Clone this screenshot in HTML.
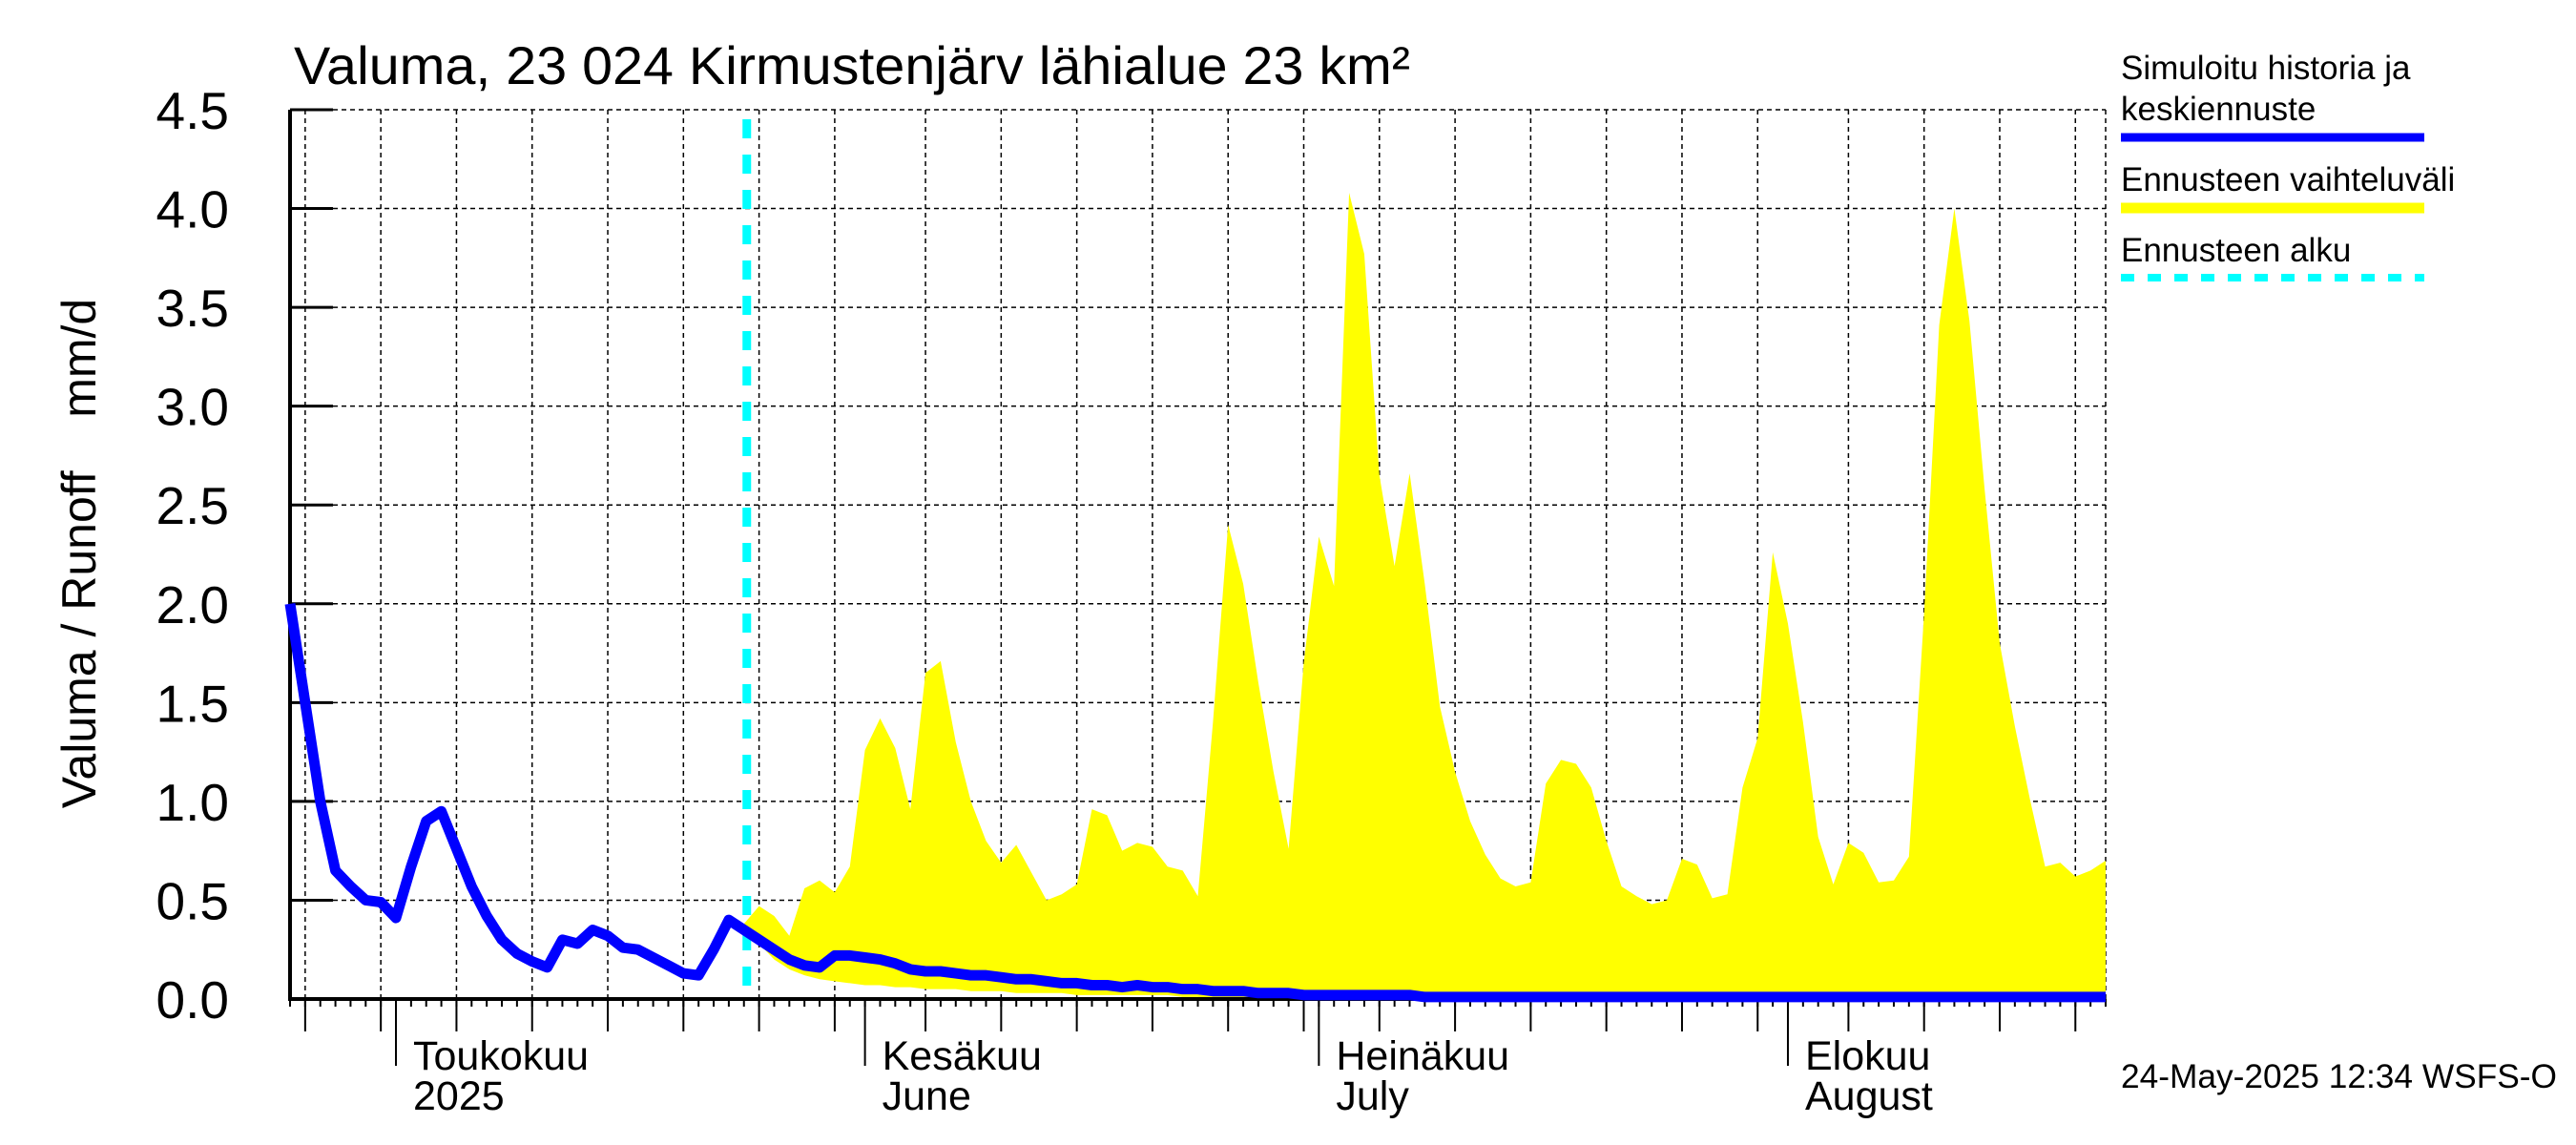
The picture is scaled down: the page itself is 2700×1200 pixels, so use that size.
<!DOCTYPE html>
<html><head><meta charset="utf-8"><style>
html,body{margin:0;padding:0;background:#fff;}
svg{display:block;font-family:"Liberation Sans",sans-serif;}
</style></head><body>
<svg id="chart" width="2700" height="1200" viewBox="0 0 2700 1200" xmlns="http://www.w3.org/2000/svg">
<rect width="2700" height="1200" fill="#fff"/>
<g id="grid"></g>
<g id="band"></g>
<g id="ticks"></g>
<g id="lines"></g>
<text x="308" y="88" font-size="56" textLength="1170" lengthAdjust="spacingAndGlyphs">Valuma, 23 024 Kirmustenjärv lähialue 23 km²</text>
<text transform="translate(100,580) rotate(-90)" text-anchor="middle" font-size="50" xml:space="preserve">Valuma / Runoff    mm/d</text>
<g>
<text x="2223" y="83" font-size="35">Simuloitu historia ja</text>
<text x="2223" y="126" font-size="35">keskiennuste</text>
<line x1="2223" y1="144" x2="2541" y2="144" stroke="#0000ff" stroke-width="9"/>
<text x="2223" y="200" font-size="35">Ennusteen vaihteluväli</text>
<line x1="2223" y1="218" x2="2541" y2="218" stroke="#ffff00" stroke-width="11"/>
<text x="2223" y="274" font-size="35">Ennusteen alku</text>
<line x1="2223" y1="291" x2="2541" y2="291" stroke="#00ffff" stroke-width="8" stroke-dasharray="14 14"/>
</g>
<text x="2223" y="1140" font-size="35" textLength="457" lengthAdjust="spacingAndGlyphs">24-May-2025 12:34 WSFS-O</text>
</svg>
<script>
const yTicks=[0,0.5,1.0,1.5,2.0,2.5,3.0,3.5,4.0,4.5];
const yTickLabels=["0.0","0.5","1.0","1.5","2.0","2.5","3.0","3.5","4.0","4.5"];
const monthDays=[7,38,68,99];
const monthLabels=["Toukokuu","Kesäkuu","Heinäkuu","Elokuu"];
const monthLabels2=["2025","June","July","August"];
const gridDays=[1,6,11,16,21,26,31,36,42,47,52,57,62,67,72,77,82,87,92,97,103,108,113,118];
const forecastStartDay=30;
const simulated=[2.0,1.5,1.0,0.65,0.57,0.5,0.49,0.41,0.67,0.9,0.95,0.76,0.57,0.42,0.3,0.23,0.19,0.16,0.3,0.28,0.35,0.32,0.26,0.25,0.21,0.17,0.13,0.12,0.25,0.4,0.35,
0.3,0.25,0.2,0.17,0.16,0.22,0.22,0.21,0.2,0.18,0.15,0.14,0.14,0.13,0.12,0.12,0.11,0.1,0.1,0.09,0.08,0.08,0.07,0.07,0.06,0.07,0.06,0.06,0.05,0.05,0.04,0.04,0.04,0.03,0.03,
0.03,0.02,0.02,0.02,0.02,0.02,0.02,0.02,0.02,0.01,0.01,0.01,0.01,0.01,0.01,0.01,0.01,0.01,0.01,0.01,0.01,0.01,0.01,0.01,0.01,0.01,0.01,0.01,0.01,0.01,0.01,0.01,0.01,0.01,0.01,
0.01,0.01,0.01,0.01,0.01,0.01,0.01,0.01,0.01,0.01,0.01,0.01,0.01,0.01,0.01,0.01,0.01,0.01,0.01,0.01];
const rangeUpper=[0.38,0.47,0.42,0.32,0.56,0.6,0.54,0.67,1.26,1.42,1.27,0.96,1.65,1.71,1.3,1.0,0.8,0.69,0.78,0.64,0.5,0.53,0.58,0.96,0.93,0.75,0.79,0.77,0.67,0.65,0.52,1.4,2.4,2.1,1.6,1.15,0.76,1.7,2.34,2.09,4.08,3.77,2.65,2.19,2.66,2.1,1.48,1.15,0.9,0.73,0.61,0.57,0.59,1.09,1.21,1.19,1.07,0.8,0.57,
0.52,0.48,0.5,0.71,0.68,0.51,0.53,1.07,1.32,2.26,1.9,1.4,0.82,0.58,0.79,0.74,0.59,0.6,0.72,1.95,3.41,4.0,3.43,2.58,1.8,1.38,1.01,0.67,0.69,0.62,0.65,0.7];
const rangeLower=[0.35,0.28,0.2,0.15,0.12,0.1,0.09,0.08,0.07,0.07,0.06,0.06,0.05,0.05,0.05,0.04,0.04,0.04,0.03,0.03,0.03,0.03,0.02,0.02,0.02,0.02,0.02,0.02,0.02,0.01,0.01];

const X0=304,X1=2207,Y0=1047,Y1=115,DAYS=120;
const xs=d=>X0+d*(X1-X0)/DAYS;
const ys=v=>Y0-v*(Y0-Y1)/4.5;
const NS="http://www.w3.org/2000/svg";
function mk(tag,parent,attrs){const e=document.createElementNS(NS,tag);for(const k in attrs)e.setAttribute(k,attrs[k]);parent.appendChild(e);return e;}
const grid=document.getElementById('grid'),ticks=document.getElementById('ticks'),band=document.getElementById('band'),lines=document.getElementById('lines');

yTicks.forEach((v,i)=>{
  if(v>0){const g=mk('line',grid,{x1:X0,x2:X1,y1:ys(v),y2:ys(v),stroke:'#000','stroke-width':1.5,'stroke-dasharray':'5 4'});
  
  }
  const t=mk('line',ticks,{x1:X0,x2:X0+45,y1:ys(v),y2:ys(v),stroke:'#000','stroke-width':3});
  
  
  const l=mk('text',ticks,{x:240,y:ys(v)+20,'text-anchor':'end','font-size':55});
  l.textContent=yTickLabels[i];
  
  
});
gridDays.forEach(d=>{
  const g=mk('line',grid,{x1:xs(d),x2:xs(d),y1:Y1,y2:Y0,stroke:'#000','stroke-width':1.5,'stroke-dasharray':'5 4'});
  
  
  const t=mk('line',ticks,{x1:xs(d),x2:xs(d),y1:Y0,y2:1081,stroke:'#000','stroke-width':2});
  
  
});
const rb=mk('line',grid,{x1:X1,x2:X1,y1:Y1,y2:Y0,stroke:'#000','stroke-width':1.5,'stroke-dasharray':'5 4'});


for(let d=0;d<=DAYS;d++){
  const t=mk('line',ticks,{x1:xs(d),x2:xs(d),y1:Y0,y2:1055,stroke:'#000','stroke-width':2});
  
  
}
monthDays.forEach((d,i)=>{
  const t=mk('line',ticks,{x1:xs(d),x2:xs(d),y1:Y0,y2:1117,stroke:'#000','stroke-width':2});
  
  
  const a=mk('text',ticks,{x:xs(d)+18,y:1121,'font-size':43});a.textContent=monthLabels[i];
  
  
  const b=mk('text',ticks,{x:xs(d)+18,y:1163,'font-size':43});b.textContent=monthLabels2[i];
  
  
});
let pts=[];
rangeUpper.forEach((v,i)=>pts.push(xs(forecastStartDay+i)+','+ys(v)));
for(let i=rangeUpper.length-1;i>=0;i--){const lo=i<rangeLower.length?rangeLower[i]:0.0;pts.push(xs(forecastStartDay+i)+','+ys(lo));}
const poly=mk('polygon',band,{points:pts.join(' '),fill:'#ffff00'});


const ax=mk('path',ticks,{d:`M${X0},${Y1} V${Y0} H${X1}`,stroke:'#000','stroke-width':4,fill:'none'});


const fs=mk('line',lines,{x1:xs(forecastStartDay)+3,x2:xs(forecastStartDay)+3,y1:Y1+10,y2:Y0,stroke:'#00ffff','stroke-width':9,'stroke-dasharray':'20 17'});


const sp=mk('polyline',lines,{points:simulated.map((v,i)=>xs(i)+','+ys(v)).join(' '),stroke:'#0000ff','stroke-width':11,fill:'none','stroke-linejoin':'round'});


</script>
</body></html>
